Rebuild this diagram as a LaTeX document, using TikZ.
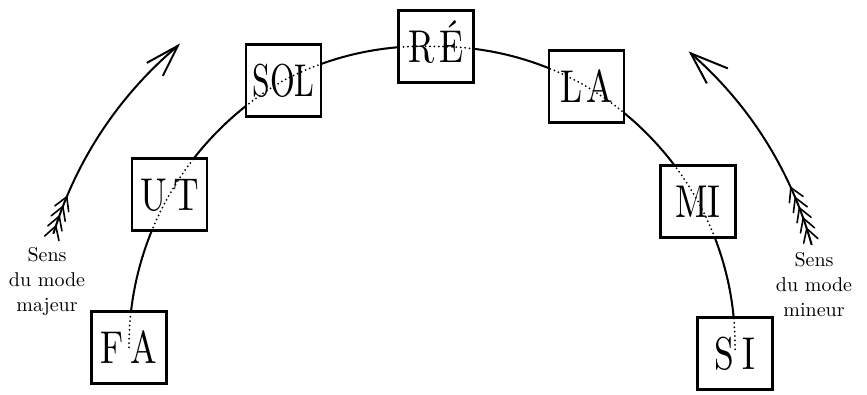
\documentclass[tikz,border=0pt]{standalone}
\usepackage{fontspec}
\usepackage{graphicx}
\usetikzlibrary{backgrounds}
\newfontfamily\lmten{lmroman10-regular.otf}
\newcommand{\bt}[2][0.77]{\scalebox{#1}[1]{#2}}
\begin{document}
\begin{tikzpicture}[x=1pt,y=1pt,
  notebox/.style={draw, line width=2.2pt, fill=white, minimum width=75pt, minimum height=72pt,
    inner sep=0pt, font=\lmten\fontsize{46}{46}\selectfont,
    text height=31.4pt, text depth=0pt},
  arcline/.style={line width=2pt},
  dotline/.style={line width=2pt, line cap=round, dash pattern=on 0pt off 4.4pt},
  arcbend/.style={bend left=15, looseness=0.87},
  arrowline/.style={line width=2pt},
  feather/.style={line width=1.6pt, line cap=round},
  sens/.style={align=center, inner sep=0pt,
    font=\lmten\fontsize{20}{25}\selectfont}
]
\useasboundingbox (0,0) rectangle (867,395);
\coordinate (C) at (433,45);

% note boxes
\node[notebox] (FA)  at (129,47.5)   {\bt{F\kern0.2em A}};
\node[notebox] (UT)  at (169.5,200.5) {\bt{U\kern0.18em T}};
\node[notebox] (SOL) at (283.5,314.5) {\bt[0.69]{SOL}};
\node[notebox] (RE)  at (436,348.5)  {\bt{R\kern0.12em É}};
\node[notebox] (LA)  at (586.5,308.5) {\bt{L\kern0.12em A}};
\node[notebox] (MI)  at (698,193.5)  {\bt{MI}};
\node[notebox] (SI)  at (735,41.5)   {\bt{S\kern0.25em I}};

% solid arc behind the boxes
\begin{scope}[on background layer]
  \draw[arcline] (FA.center) to[arcbend] (UT.center) to[arcbend] (SOL.center)
    to[arcbend] (RE.center) to[arcbend] (LA.center) to[arcbend] (MI.center)
    to[arcbend] (SI.center);
\end{scope}
% dotted continuation through the boxes
\draw[dotline] (FA.center) to[arcbend] (UT.center) to[arcbend] (SOL.center)
    to[arcbend] (RE.center) to[arcbend] (LA.center) to[arcbend] (MI.center)
    to[arcbend] (SI.center);

% left arrow (major mode)
\path (C) ++(163:397) coordinate (Ltail);
\path (C) ++(130:397) coordinate (Ltip);
\draw[arrowline] (Ltail) arc[start angle=163, end angle=130, radius=397];
\draw[arrowline] ([shift={(-31,-17)}]Ltip) -- (Ltip) -- ([shift={(-15,-30)}]Ltip);
\foreach \a in {157.3,158.8,160.3,161.8}{
  \draw[feather] (C) ++(\a:397) -- ++(\a+90+30:15) (C) ++(\a:397) -- ++(\a+90-30:15);
}

% right arrow (minor mode)
\path (C) ++(15.5:393) coordinate (Rtail);
\path (C) ++(49:393) coordinate (Rtip);
\draw[arrowline] (Rtail) arc[start angle=15.5, end angle=49, radius=393];
\draw[arrowline] ([shift={(37,-15)}]Rtip) -- (Rtip) -- ([shift={(16,-30)}]Rtip);
\foreach \a in {18.0,19.6,21.2,22.8,24.4}{
  \draw[feather] (C) ++(\a:393) -- ++(\a-90+30:15) (C) ++(\a:393) -- ++(\a-90-30:15);
}

% labels
\node[sens] (Lmaj) at (47,113.5) {Sens\\du mode\\majeur};
\node[sens] (Rmin) at (814,110.5) {Sens\\du mode\\mineur};
\end{tikzpicture}
\end{document}
